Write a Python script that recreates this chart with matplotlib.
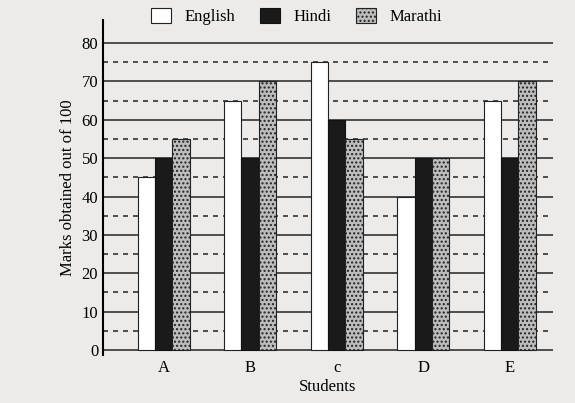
import matplotlib
matplotlib.use("Agg")
import matplotlib.pyplot as plt
import numpy as np

students = ["A", "B", "c", "D", "E"]
english = [45, 65, 75, 40, 65]
hindi = [50, 50, 60, 50, 50]
marathi = [55, 70, 55, 50, 70]

plt.rcParams['font.family'] = ['Liberation Serif', 'DejaVu Serif']
plt.rcParams['hatch.color'] = '#555555'
fig = plt.figure(figsize=(5.75, 4.03), dpi=100, facecolor='#ecebea')
ax = fig.add_axes([103/575, 48/403, 450/575, 335/403])
ax.set_facecolor('#ecebea')
x = np.arange(len(students))
w = 0.2
ax.set_ylim(-1.3, 86)
ax.set_xlim(-0.7, 4.5)
for v in range(0, 90, 10):
    ax.axhline(v, color='#333', lw=1.2, zorder=0)
for v in range(5, 80, 10):
    ax.axhline(v, color='#333', lw=1.2, ls=(0, (3, 3)), zorder=0)
ax.bar(x - w, english, w, color='white', edgecolor='#222', lw=0.8, label='English', zorder=2)
ax.bar(x, hindi, w, color='#1a1a1a', edgecolor='#111', lw=0.8, label='Hindi', zorder=2)
ax.bar(x + w, marathi, w, color='#bdbdbd', edgecolor='#222', lw=0.8, hatch='....', label='Marathi', zorder=2)
ax.set_xticks(x)
ax.set_xticklabels(students, fontsize=12)
ax.set_yticks(range(0, 90, 10))
ax.tick_params(axis='y', length=0, labelsize=12)
ax.tick_params(axis='x', length=0)
for s in ['top', 'right', 'bottom']:
    ax.spines[s].set_visible(False)
ax.spines['left'].set_linewidth(1.5)
ax.set_ylabel('Marks obtained out of 100', fontsize=12)
ax.set_xlabel('Students', fontsize=12, labelpad=2)
ax.legend(loc='lower center', bbox_to_anchor=(0.43, 0.965), ncol=3, frameon=False,
          fontsize=12, handlelength=1.2, handleheight=1.0, columnspacing=1.5, borderaxespad=0)
fig.savefig('out.png', dpi=100, facecolor=fig.get_facecolor())
